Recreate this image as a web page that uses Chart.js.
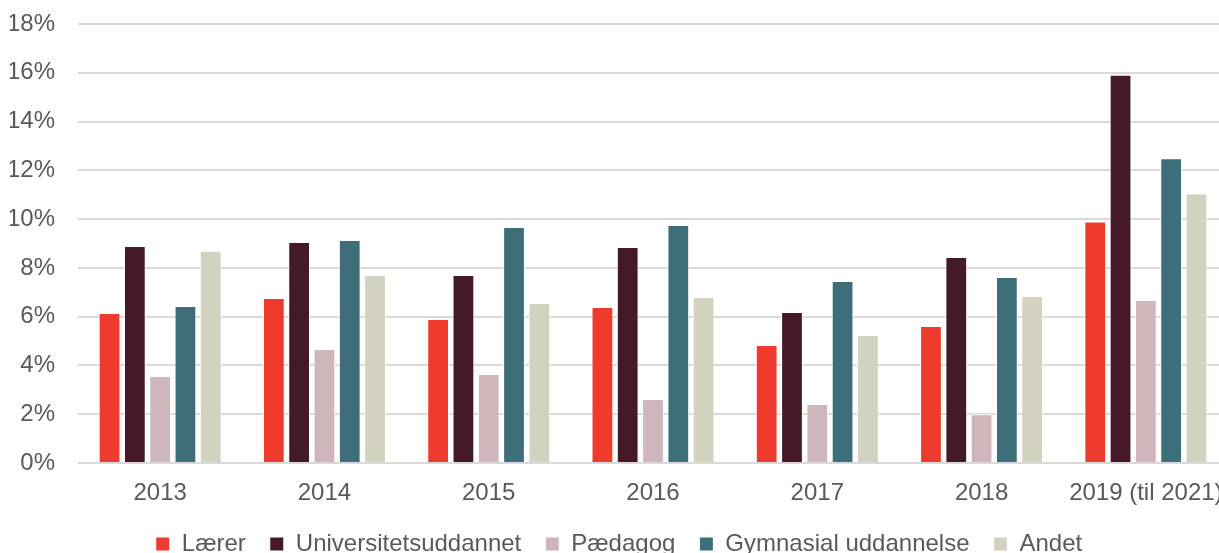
<!DOCTYPE html>
<html>
<head>
<meta charset="utf-8">
<script src="https://cdn.jsdelivr.net/npm/chart.js@4/dist/chart.umd.min.js"></script>
<style>
  html, body { margin: 0; padding: 0; background: #fff; overflow: hidden; }
  #wrap { width: 1228px; height: 566px; }
</style>
</head>
<body>
<div id="wrap"><canvas id="chart" width="1228" height="566"></canvas></div>
<script>
// categories and values (percent)
const years = ['2013', '2014', '2015', '2016', '2017', '2018', '2019 (til 2021)'];
const laerer = [6.15, 6.77, 5.9, 6.4, 4.84, 5.62, 9.9];
const universitet = [8.9, 9.06, 7.71, 8.86, 6.19, 8.45, 15.92];
const paedagog = [3.57, 4.67, 3.65, 2.62, 2.42, 2.0, 6.68];
const gymnasial = [6.44, 9.14, 9.68, 9.76, 7.46, 7.63, 12.5];
const andet = [8.7, 7.71, 6.56, 6.81, 5.25, 6.85, 11.05];
const yTicks = [0, 2, 4, 6, 8, 10, 12, 14, 16, 18];

const txt = '#595959';
const font = { family: "'Liberation Sans', Arial, sans-serif", size: 24 };

function ds(label, data, color) {
    return {
        label: label,
        data: data,
        backgroundColor: color,
        borderColor: '#ffffff',
        borderWidth: 1,
        barPercentage: 0.86,
        categoryPercentage: 0.77
    };
}

const chart = new Chart(document.getElementById('chart').getContext('2d'), {
    type: 'bar',
    data: {
        labels: years,
        datasets: [
            ds('Lærer', laerer, '#ee3b2e'),
            ds('Universitetsuddannet', universitet, '#431a26'),
            ds('Pædagog', paedagog, '#cfb6ba'),
            ds('Gymnasial uddannelse', gymnasial, '#3d6e79'),
            ds('Andet', andet, '#d3d1c0')
        ]
    },
    options: {
        responsive: false,
        animation: false,
        layout: { autoPadding: false, padding: { left: 10, top: 24, right: 0, bottom: 0 } },
        plugins: {
            legend: {
                position: 'bottom',
                labels: {
                    font: font,
                    color: txt,
                    boxWidth: 14,
                    boxHeight: 14,
                    padding: 24
                }
            },
            tooltip: { enabled: false }
        },
        scales: {
            x: {
                grid: { display: false },
                border: { display: false },
                ticks: { font: font, color: txt, padding: 8, maxRotation: 0, autoSkip: false },
                afterFit: function (axis) {
                    axis.height = 45;
                    axis.paddingLeft = 0;
                    axis.paddingRight = 0;
                }
            },
            y: {
                min: 0,
                max: 18,
                afterBuildTicks: function (axis) {
                    axis.ticks = yTicks.map(v => ({ value: v }));
                },
                afterFit: function (axis) {
                    axis.width = 68;
                    axis.paddingTop = 0;
                    axis.paddingBottom = 0;
                },
                grid: { color: '#d9d9d9', lineWidth: 2, drawTicks: false },
                border: { display: false },
                ticks: {
                    font: font,
                    color: txt,
                    padding: 23,
                    callback: v => v + '%'
                }
            }
        }
    }
});
</script>
</body>
</html>
